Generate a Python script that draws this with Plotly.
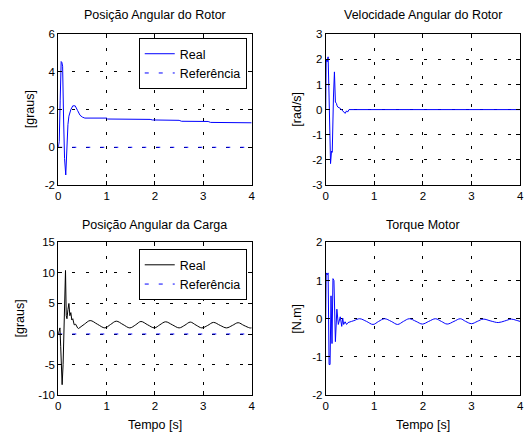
import plotly.graph_objects as go

# ---------------- data ----------------
# Posição Angular do Rotor (graus)
rotor_pos_t = [0.00, 0.02, 0.04, 0.06, 0.075, 0.09, 0.11, 0.13, 0.155, 0.17, 0.185, 0.20, 0.22,
               0.26, 0.30, 0.35, 0.40, 0.45, 0.50, 0.55, 1.00, 1.02, 1.90, 1.95, 2.50, 2.55,
               3.10, 3.15, 4.00]
rotor_pos_y = [0.0, 0.3, 2.5, 4.55, 4.5, 4.3, 1.5, -0.6, -1.47, -0.5, 0.7, 1.2, 1.65,
               2.0, 2.2, 2.2, 1.95, 1.7, 1.6, 1.55, 1.55, 1.5, 1.48, 1.45, 1.43, 1.38,
               1.37, 1.32, 1.3]

# Velocidade Angular do Rotor (rad/s)
rotor_vel_t = [0.00, 0.01, 0.03, 0.05, 0.07, 0.10, 0.12, 0.135, 0.16, 0.18, 0.20, 0.22, 0.235,
               0.25, 0.30, 0.35, 0.40, 0.43, 0.45, 0.48, 4.00]
rotor_vel_y = [0.0, 2.0, 1.9, 2.1, 0.5, -2.15, -1.65, -1.7, 0.5, 1.5, 0.3, 0.25, 0.15,
               0.1, 0.05, -0.05, -0.15, -0.05, -0.1, 0.0, 0.0]

# Posição Angular da Carga (graus) - transitório
load_pos_t1 = [0.00, 0.02, 0.035, 0.05, 0.08, 0.10, 0.13, 0.15, 0.165, 0.18, 0.20, 0.22,
               0.24, 0.26, 0.28, 0.30, 0.33, 0.36, 0.40, 0.42]
load_pos_y1 = [0.0, 0.5, 1.0, -2.0, -8.3, -5.0, 8.0, 10.4, 3.0, 2.5, 4.0, 5.0,
               3.0, 3.5, 2.3, 2.5, 1.5, 1.6, 1.0, 0.9]
# Posição Angular da Carga (graus) - oscilação
load_pos_t2 = [0.42, 0.54, 0.66, 0.81, 0.965, 1.08, 1.20, 1.34, 1.48, 1.60, 1.71, 1.85, 1.99,
               2.10, 2.22, 2.36, 2.50, 2.62, 2.73, 2.85, 2.97, 3.09, 3.21, 3.35, 3.48,
               3.60, 3.72, 3.84, 3.96, 4.00]
load_pos_y2 = [0.9, 1.6, 2.2, 1.6, 1.0, 1.55, 2.1, 1.55, 1.0, 1.5, 2.05, 1.5, 1.0,
               1.5, 2.0, 1.5, 1.0, 1.45, 1.95, 1.45, 1.0, 1.4, 1.9, 1.4, 1.0,
               1.4, 1.85, 1.4, 1.0, 1.0]

# Torque Motor (N.m) - transitório
torque_t1 = [0.00, 0.01, 0.03, 0.05, 0.07, 0.09, 0.11, 0.13, 0.15, 0.17, 0.20, 0.23, 0.26,
             0.30, 0.33, 0.35, 0.37, 0.40, 0.43, 0.46]
torque_y1 = [0.0, 1.2, 1.15, 1.2, -1.2, -1.2, 0.6, -0.65, 1.05, 1.0, -0.6, 0.25, -0.15,
             0.05, -0.2, 0.02, -0.15, -0.08, -0.15, -0.1]
# Torque Motor (N.m) - oscilação
torque_t2 = [0.46, 0.58, 0.70, 0.84, 0.975, 1.09, 1.21, 1.35, 1.48, 1.60, 1.72, 1.86, 1.99,
             2.12, 2.26, 2.38, 2.50, 2.64, 2.77, 2.88, 3.00, 3.12, 3.24, 3.40, 3.55,
             3.68, 3.82, 3.92, 4.00]
torque_y2 = [-0.1, -0.05, 0.0, -0.07, -0.15, -0.07, 0.0, -0.07, -0.15, -0.07, 0.0, -0.07, -0.14,
             -0.07, 0.0, -0.07, -0.14, -0.07, 0.0, -0.07, -0.13, -0.07, -0.01, -0.06, -0.1,
             -0.06, -0.01, -0.04, -0.07]

ref_t = [0.0, 4.0]
ref_y = [0.0, 0.0]

titles = ["Posição Angular do Rotor", "Velocidade Angular do Rotor",
          "Posição Angular da Carga", "Torque Motor"]
ylabels = ["[graus]", "[rad/s]", "[graus]", "[N.m]"]
xlabel = "Tempo [s]"
yranges = [[-2, 6], [-3, 3], [-10, 15], [-2, 2]]

x_tickvals = [0, 1, 2, 3, 4]
x_ticktext = ["0", "1", "2", "3", "4"]
y_tickvals = [[-2, 0, 2, 4, 6], [-3, -2, -1, 0, 1, 2, 3], [-10, -5, 0, 5, 10, 15], [-2, -1, 0, 1, 2]]
y_ticktext = [["-2", "0", "2", "4", "6"],
              ["-3", "-2", "-1", "0", "1", "2", "3"],
              ["-10", "-5", "0", "5", "10", "15"],
              ["-2", "-1", "0", "1", "2"]]

# ---------------- layout geometry ----------------
W, H = 530, 440
FONT = "Liberation Sans, Arial, sans-serif"
BLUE = "rgb(0,0,255)"
TXT = 12.5
TICK = 11.5
xdom = [[56 / W, 252 / W], [327 / W, 524 / W]]
ydom = [[1 - 184 / H, 1 - 29 / H], [1 - 400 / H, 1 - 243 / H]]
title_off = [20, 18]
DASH = "3px,11px"

fig = go.Figure()

def ax(n):
    return ("x" if n == 1 else f"x{n}"), ("y" if n == 1 else f"y{n}")

# subplot 1
xa, ya = ax(1)
fig.add_trace(go.Scatter(x=rotor_pos_t, y=rotor_pos_y, mode="lines", name="Real",
                         line=dict(color=BLUE, width=1), xaxis=xa, yaxis=ya, legend="legend"))
fig.add_trace(go.Scatter(x=ref_t, y=ref_y, mode="lines", name="Referência",
                         line=dict(color=BLUE, width=1, dash="4px,10px"), xaxis=xa, yaxis=ya,
                         legend="legend"))
# subplot 2
xa, ya = ax(2)
fig.add_trace(go.Scatter(x=rotor_vel_t, y=rotor_vel_y, mode="lines", showlegend=False,
                         line=dict(color=BLUE, width=1), xaxis=xa, yaxis=ya))
# subplot 3
xa, ya = ax(3)
fig.add_trace(go.Scatter(x=ref_t, y=ref_y, mode="lines", showlegend=False,
                         line=dict(color=BLUE, width=1, dash="4px,10px"), xaxis=xa, yaxis=ya))
fig.add_trace(go.Scatter(x=load_pos_t1, y=load_pos_y1, mode="lines", name="Real",
                         line=dict(color="black", width=1), xaxis=xa, yaxis=ya, legend="legend2"))
fig.add_trace(go.Scatter(x=load_pos_t2, y=load_pos_y2, mode="lines", showlegend=False,
                         line=dict(color="black", width=1, shape="spline"), xaxis=xa, yaxis=ya))
fig.add_trace(go.Scatter(x=[None], y=[None], mode="lines", name="Referência",
                         line=dict(color=BLUE, width=1, dash="4px,10px"), xaxis=xa, yaxis=ya,
                         legend="legend2"))
# subplot 4
xa, ya = ax(4)
fig.add_trace(go.Scatter(x=torque_t1, y=torque_y1, mode="lines", showlegend=False,
                         line=dict(color=BLUE, width=1), xaxis=xa, yaxis=ya))
fig.add_trace(go.Scatter(x=torque_t2, y=torque_y2, mode="lines", showlegend=False,
                         line=dict(color=BLUE, width=1, shape="spline"), xaxis=xa, yaxis=ya))

common = dict(showline=True, linecolor="black", linewidth=1, mirror="ticks",
              ticks="inside", ticklen=4, tickcolor="black", tickwidth=1,
              showgrid=True, gridcolor="black", gridwidth=1, griddash=DASH,
              zeroline=False, tickfont=dict(family=FONT, size=TICK, color="black"))

layout = dict(width=W, height=H, margin=dict(l=0, r=0, t=0, b=0),
              paper_bgcolor="white", plot_bgcolor="white", font=dict(family=FONT, size=TXT),
              annotations=[])
for i in range(4):
    n = i + 1
    col, row = i % 2, i // 2
    xk = "xaxis" if n == 1 else f"xaxis{n}"
    yk = "yaxis" if n == 1 else f"yaxis{n}"
    layout[xk] = dict(domain=xdom[col], range=[0, 4], tickmode="array",
                      tickvals=x_tickvals, ticktext=x_ticktext,
                      anchor=("y" if n == 1 else f"y{n}"), **common)
    layout[yk] = dict(domain=ydom[row], range=yranges[i], tickmode="array",
                      tickvals=y_tickvals[i], ticktext=y_ticktext[i],
                      anchor=("x" if n == 1 else f"x{n}"), **common)
    cx = (xdom[col][0] + xdom[col][1]) / 2
    layout["annotations"].append(dict(text=titles[i], x=cx, y=ydom[row][1] + title_off[row] / H,
                                      xref="paper", yref="paper", showarrow=False,
                                      xanchor="center", yanchor="middle",
                                      font=dict(family=FONT, size=TXT, color="black")))
    ylab_x = [27, 298, 17, 298][i] / W
    layout["annotations"].append(dict(text=ylabels[i], x=ylab_x, y=(ydom[row][0] + ydom[row][1]) / 2,
                                      xref="paper", yref="paper", showarrow=False, textangle=-90,
                                      xanchor="center", yanchor="middle",
                                      font=dict(family=FONT, size=TXT, color="black")))
    if row == 1:
        layout["annotations"].append(dict(text=xlabel, x=cx, y=1 - 431 / H,
                                          xref="paper", yref="paper", showarrow=False,
                                          xanchor="center", yanchor="middle",
                                          font=dict(family=FONT, size=TXT, color="black")))

leg = dict(xanchor="right", yanchor="top", bgcolor="white", bordercolor="black", borderwidth=1,
           font=dict(family=FONT, size=TXT, color="black"), tracegroupgap=0, itemwidth=30)
layout["legend"] = dict(x=247 / W, y=1 - 33 / H, **leg)
layout["legend2"] = dict(x=247 / W, y=1 - 250 / H, **leg)

fig.update_layout(**layout)
fig.write_html("out.html", config={"displayModeBar": False},
               post_script="document.body.style.margin='0';document.body.style.overflow='hidden';")
